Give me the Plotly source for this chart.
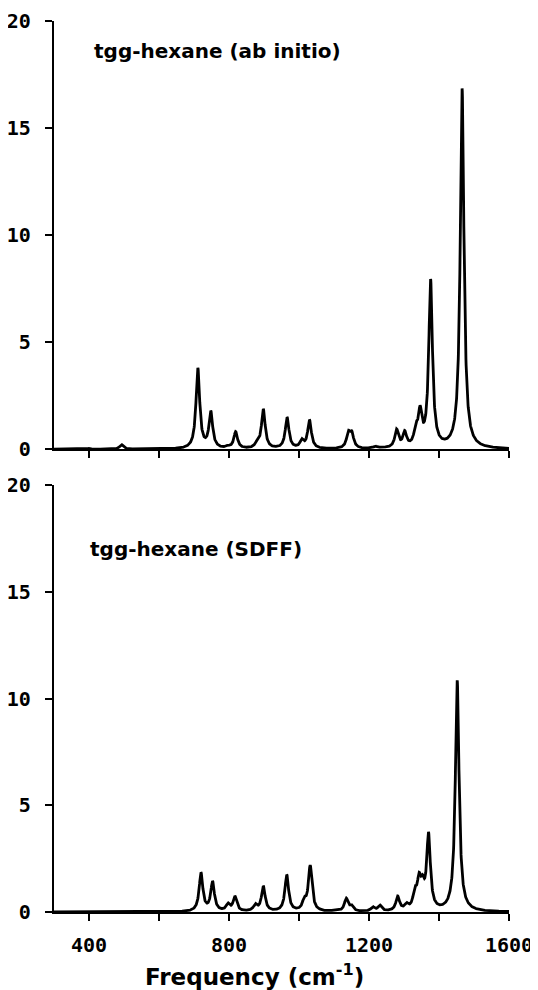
import numpy as np
import plotly.graph_objects as go

# ---- data ----
freq_min, freq_max = 300, 1600

# top panel: tgg-hexane (ab initio) -- band positions and observed peak heights
abinitio_centers = [400, 493, 711, 748, 797, 819, 880, 898, 966, 1008, 1030, 1096,
                    1141, 1151, 1218, 1238, 1279, 1302, 1334, 1346, 1376, 1466]
abinitio_heights = [0.04, 0.22, 3.8, 1.8, 0.2, 0.83, 0.45, 1.88, 1.5, 0.5, 1.38, 0.06,
                    0.88, 0.86, 0.15, 0.13, 0.95, 0.88, 1.28, 2.05, 7.95, 16.85]

# bottom panel: tgg-hexane (SDFF)
sdff_centers = [400, 500, 720, 753, 797, 817, 875, 898, 965, 1015, 1032, 1096,
                1135, 1150, 1211, 1231, 1282, 1307, 1331, 1343, 1353, 1370, 1452]
sdff_heights = [0.03, 0.03, 1.85, 1.45, 0.43, 0.75, 0.4, 1.22, 1.75, 0.72, 2.2, 0.08,
                0.65, 0.35, 0.25, 0.33, 0.75, 0.45, 1.2, 1.85, 1.75, 3.75, 10.85]

band_halfwidth = 6.3  # cm^-1, Lorentzian half width

x_major = [400, 800, 1200, 1600]
x_major_text = ["400", "800", "1200", "1600"]
x_minor = [600, 1000, 1400]
y_ticks = [0, 5, 10, 15, 20]
y_ticktext = ["0", "5", "10", "15", "20"]

panel_titles = ["tgg-hexane (ab initio)", "tgg-hexane (SDFF)"]
x_title = "Frequency (cm<sup>-1</sup>)"


def spectrum(centers, heights, g, x):
    c = np.asarray(centers, float)
    h = np.asarray(heights, float)
    K = g**2 / ((c[:, None] - c[None, :])**2 + g**2)
    amps = np.clip(np.linalg.solve(K, h), 0, None)
    return (amps[None, :] * g**2 / ((x[:, None] - c[None, :])**2 + g**2)).sum(axis=1)


xs = np.linspace(freq_min, freq_max, 2601)
y_top = spectrum(abinitio_centers, abinitio_heights, band_halfwidth, xs)
y_bot = spectrum(sdff_centers, sdff_heights, band_halfwidth, xs)

fig = go.Figure()
line = dict(color="black", width=2.8)
fig.add_trace(go.Scatter(x=xs, y=y_top, mode="lines", line=line, xaxis="x", yaxis="y",
                         showlegend=False, hoverinfo="skip"))
fig.add_trace(go.Scatter(x=xs, y=y_bot, mode="lines", line=line, xaxis="x2", yaxis="y2",
                         showlegend=False, hoverinfo="skip"))

tickfont = dict(family="DejaVu Sans Mono", size=20, color="black", weight="bold")
top_dom = [0.5193, 1.0]
bot_dom = [0.0, 0.4792]

xcommon = dict(range=[freq_min, freq_max], showgrid=False, zeroline=False,
               showline=True, linecolor="black", linewidth=2.2, automargin=False,
               ticks="outside", ticklen=7, tickwidth=2, tickcolor="black",
               tickmode="array", tickvals=x_major, ticktext=x_major_text,
               tickfont=tickfont, ticklabelstandoff=7,
               minor=dict(tickmode="array", tickvals=x_minor, ticks="outside",
                          ticklen=7, tickwidth=2, tickcolor="black", showgrid=False))
ycommon = dict(range=[0, 20], showgrid=False, zeroline=False, automargin=False,
               showline=True, linecolor="black", linewidth=2.2,
               ticks="outside", ticklen=7, tickwidth=2, tickcolor="black",
               tickmode="array", tickvals=y_ticks, ticktext=y_ticktext, tickfont=tickfont,
               ticklabelstandoff=10)
yinner = dict(range=[0, 20], showgrid=False, zeroline=False, showline=False,
              automargin=False, ticks="inside", ticklen=5, tickwidth=2, tickcolor="black",
              tickmode="array", tickvals=y_ticks, showticklabels=False)

# the page body adds an 8px offset; margins compensate so the plot lands where the reference has it
fig.update_layout(
    width=538, height=990,
    margin=dict(l=46, r=37, t=13, b=86, autoexpand=False),
    paper_bgcolor="white", plot_bgcolor="white",
    xaxis=dict(**xcommon, domain=[0, 1], anchor="y", showticklabels=False),
    yaxis=dict(**ycommon, domain=top_dom, anchor="x"),
    xaxis2=dict(**xcommon, domain=[0, 1], anchor="y2"),
    yaxis2=dict(**ycommon, domain=bot_dom, anchor="x2"),
    yaxis3=dict(**yinner, domain=top_dom, anchor="x", overlaying="y"),
    yaxis4=dict(**yinner, domain=bot_dom, anchor="x2", overlaying="y2"),
)

titlefont = dict(family="DejaVu Sans", size=20, color="black", weight="bold")
fig.add_annotation(text=panel_titles[0], xref="x", yref="y", x=768, y=18.6,
                   showarrow=False, font=titlefont, xanchor="center", yanchor="middle")
fig.add_annotation(text=panel_titles[1], xref="x2", yref="y2", x=705, y=17.0,
                   showarrow=False, font=titlefont, xanchor="center", yanchor="middle")
fig.add_annotation(text=x_title, xref="paper", yref="paper", x=0.441, y=-0.0705,
                   showarrow=False, font=dict(family="DejaVu Sans", size=23, color="black",
                                              weight="bold"),
                   xanchor="center", yanchor="middle")

fig.write_html("out.html")
